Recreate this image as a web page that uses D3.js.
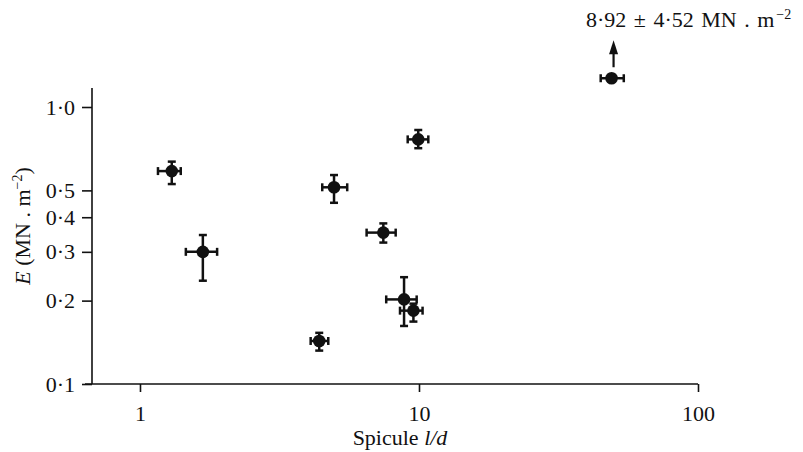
<!DOCTYPE html>
<html>
<head>
<meta charset="utf-8">
<script src="https://cdn.jsdelivr.net/npm/d3@7/dist/d3.min.js"></script>
<style>
  html, body { margin: 0; padding: 0; background: #fff; }
  svg { display: block; }
  text { font-family: "Liberation Serif", "DejaVu Serif", serif; fill: #111; }
</style>
</head>
<body>
<svg id="chart" width="803" height="452"></svg>
<script>
// Young's modulus of spicules against their length/diameter ratio
const spiculeLD = [1.30, 1.68, 4.96, 9.94, 7.45, 4.39, 8.84, 9.55, 49.0];
const ldLow     = [1.16, 1.46, 4.50, 9.11, 6.49, 4.09, 7.63, 8.55, 44.8];
const ldHigh    = [1.40, 1.89, 5.53, 10.8, 8.25, 4.73, 9.81, 10.3, 54.2];
const modulusE  = [0.587, 0.30, 0.513, 0.764, 0.352, 0.143, 0.202, 0.184, 8.92];
const eLow      = [0.527, 0.236, 0.451, 0.710, 0.324, 0.132, 0.162, 0.168, 4.40];
const eHigh     = [0.635, 0.345, 0.568, 0.826, 0.380, 0.153, 0.243, 0.195, 13.44];

const xTicks = [1, 10, 100];
const xTickLabels = ["1", "10", "100"];
const yTicks = [0.1, 0.2, 0.3, 0.4, 0.5, 1.0];
const yTickLabels = ["0·1", "0·2", "0·3", "0·4", "0·5", "1·0"];

// values above this are drawn at the top with an arrow
const offScaleCap = 1.27;

const svg = d3.select("#chart");
const fontSize = 22;

const x = d3.scaleLog().domain([0.673, 100]).range([92, 698]);
const y = d3.scaleLog().domain([0.1, 1.0]).range([384, 107]);
const yPlot = y.copy().domain([0.1, offScaleCap]).range([384, y(offScaleCap)]).clamp(true);
const yAxisTop = 1.17;

const ink = "#111";

// x axis
const xAxis = d3.axisBottom(x).tickValues(xTicks).tickFormat((d, i) => xTickLabels[i])
  .tickSize(8).tickSizeOuter(0).tickPadding(13);
const gx = svg.append("g").attr("transform", `translate(0,${y(0.1)})`).call(xAxis);
gx.select(".domain").remove();
gx.selectAll(".tick line").attr("stroke", ink).attr("stroke-width", 1.6);
gx.selectAll(".tick text").attr("font-size", fontSize).attr("font-family", "Liberation Serif").attr("fill", ink);
svg.append("line")
  .attr("x1", x(0.673) - 7).attr("x2", x(100))
  .attr("y1", y(0.1)).attr("y2", y(0.1))
  .attr("stroke", ink).attr("stroke-width", 1.6);

// y axis
const yAxis = d3.axisLeft(y).tickValues(yTicks).tickFormat((d, i) => yTickLabels[i])
  .tickSize(10).tickSizeOuter(0).tickPadding(7);
const gy = svg.append("g").attr("transform", `translate(${x(0.673)},0)`).call(yAxis);
gy.select(".domain").remove();
gy.selectAll(".tick line").attr("stroke", ink).attr("stroke-width", 1.6);
gy.selectAll(".tick text").attr("font-size", fontSize).attr("font-family", "Liberation Serif").attr("fill", ink);
svg.append("line")
  .attr("x1", x(0.673)).attr("x2", x(0.673))
  .attr("y1", y(0.1)).attr("y2", y(yAxisTop))
  .attr("stroke", ink).attr("stroke-width", 1.6);

// axis titles
const xt = svg.append("text").attr("x", 400).attr("y", 445)
  .attr("text-anchor", "middle").attr("font-size", fontSize);
xt.append("tspan").text("Spicule ");
xt.append("tspan").attr("font-style", "italic").text("l/d");

const yt = svg.append("text")
  .attr("transform", "translate(30,226) rotate(-90)")
  .attr("text-anchor", "middle").attr("font-size", fontSize);
yt.append("tspan").attr("font-style", "italic").text("E");
yt.append("tspan").text(" (MN . m");
yt.append("tspan").attr("font-size", 14).attr("dy", -8).text("−2");
yt.append("tspan").attr("dy", 8).text(")");

// error bars and points
const data = spiculeLD.map((v, i) => ({
  ld: v, ldLo: ldLow[i], ldHi: ldHigh[i], e: modulusE[i], eLo: eLow[i], eHi: eHigh[i]
}));

const cap = 4;
const marks = svg.append("g").attr("stroke", ink).attr("stroke-width", 2.5).attr("fill", ink);
data.forEach(d => {
  const cx = x(d.ld), cy = yPlot(d.e);
  const g = marks.append("g");
  g.append("line").attr("x1", x(d.ldLo)).attr("x2", x(d.ldHi)).attr("y1", cy).attr("y2", cy);
  g.append("line").attr("x1", x(d.ldLo)).attr("x2", x(d.ldLo)).attr("y1", cy - cap).attr("y2", cy + cap);
  g.append("line").attr("x1", x(d.ldHi)).attr("x2", x(d.ldHi)).attr("y1", cy - cap).attr("y2", cy + cap);
  if (d.e < offScaleCap) {
    g.append("line").attr("x1", cx).attr("x2", cx).attr("y1", y(d.eLo)).attr("y2", y(d.eHi));
    g.append("line").attr("x1", cx - cap).attr("x2", cx + cap).attr("y1", y(d.eLo)).attr("y2", y(d.eLo));
    g.append("line").attr("x1", cx - cap).attr("x2", cx + cap).attr("y1", y(d.eHi)).attr("y2", y(d.eHi));
  }
  g.append("circle").attr("cx", cx).attr("cy", cy).attr("r", 6.3).attr("stroke", "none");
});

// off-scale point: arrow and value label
const off = data.filter(d => d.e >= offScaleCap);
off.forEach(d => {
  const ax = x(d.ld) + 2, ay = yPlot(d.e);
  svg.append("line").attr("x1", ax).attr("x2", ax).attr("y1", ay - 11).attr("y2", ay - 26)
    .attr("stroke", ink).attr("stroke-width", 2.2);
  svg.append("path")
    .attr("d", `M${ax},${ay - 38} L${ax - 4.5},${ay - 24} L${ax + 4.5},${ay - 24} Z`)
    .attr("fill", ink);
  const fmt = v => d3.format(".2f")(v).replace(".", "·");
  const lbl = svg.append("text").attr("x", 586).attr("y", 27).attr("font-size", fontSize)
    .attr("word-spacing", 2);
  lbl.append("tspan").text(`${fmt(d.e)} ± ${fmt(d.e - d.eLo)} MN . m`);
  lbl.append("tspan").attr("font-size", 14).attr("dy", -8).attr("dx", 2).text("−2");
});
</script>
</body>
</html>
